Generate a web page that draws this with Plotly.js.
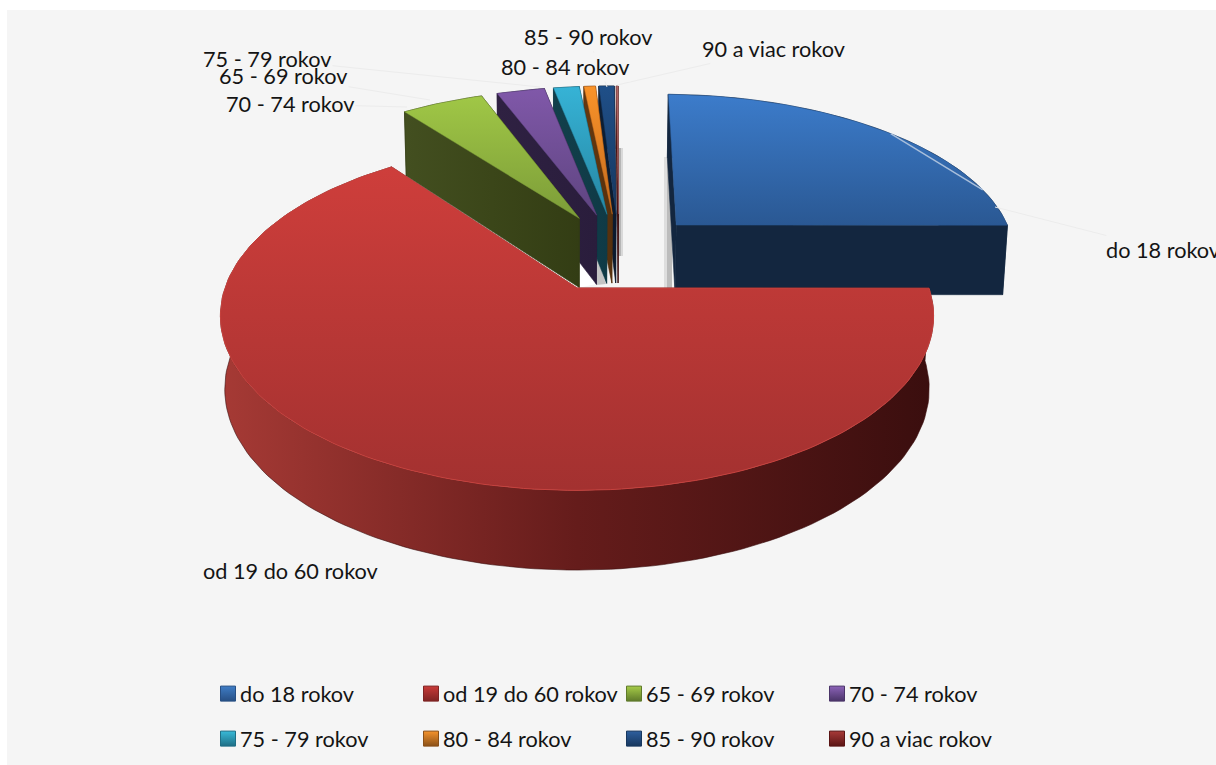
<!DOCTYPE html>
<html><head><meta charset="utf-8">
<script src="https://cdn.plot.ly/plotly-3.0.1.min.js"></script>
<style>html,body{margin:0;padding:0;background:#fff;overflow:hidden}</style>
</head><body><div id="chart" style="width:1216px;height:765px"></div>
<script>
// ---- data ----
const categories = ['do 18 rokov','od 19 do 60 rokov','65 - 69 rokov','70 - 74 rokov','75 - 79 rokov','80 - 84 rokov','85 - 90 rokov','90 a viac rokov'];
const values = [24.74,64.85,4.65,2.7,1.45,0.65,0.86,0.1];
// ---- styles ----
const topLight = ['#3C7CCB','#CE3E3B','#A0C746','#8058A9','#36B3D6','#F99329','#1F4F88','#B06A6A'];
const topDark  = ['#2A5893','#A33130','#7C9C38','#5E4480','#2686A2','#C46A1E','#17375E','#A05A5A'];
const wallLeft = ['#13263F','#A63A35','#434F20','#2F2142','#123F4B','#66380F','#0D1F35','#501515'];
const wallMid  = ['#13263F','#651C1B','#3B4619','#2C1F3F','#113D49','#5E340E','#0C1C31','#481212'];
const wallRight= ['#13263F','#3A0E0E','#333D14','#2A1D3C','#0F3A46','#55300E','#0B1A2E','#401010'];
const legendLight = ['#3F7DC6','#C93A38','#A6CC48','#8C63B8','#38BAD8','#F5932C','#2E5F9E','#A83A38'];
const legendDark  = ['#274F84','#7E2423','#5F7A2A','#4A3468','#1F6E85','#8A5018','#17375E','#5A1414'];
const labelPlaces = [ // label centre (ax,ay), leader end (x,y)
  [1163,250,995,207],[290,571,null,null],[283,76,430,100],[290,104,407,107],
  [267,59,540,87],[565,67,565,67],[588,37,607,87],[773,49,617,85]];
// ---- projection of the exploded tilted disc onto the page ----
const VIEW = {cx:577,cy:288,rx:352,a:170,p:0.16,depth:74,q:0.025,qx:0.012,pull:0.247,start:1.0,backU:0.012};
const total = values.reduce((s,v)=>s+v,0);
const rad = d=>d*Math.PI/180;
const spans=[]; let acc=VIEW.start;
values.forEach(v=>{const d=v/total*360; spans.push([acc,acc+d]); acc+=d;});
const redMid=(spans[1][0]+spans[1][1])/2;
const U0=-VIEW.pull*Math.sin(rad(redMid)), V0=-VIEW.pull*Math.cos(rad(redMid));
function apex(i){const m=(spans[i][0]+spans[i][1])/2;return [U0+VIEW.pull*Math.sin(rad(m))+(i===1?0:VIEW.backU),V0+VIEW.pull*Math.cos(rad(m))];}
function topP(U,V){const w=1+VIEW.p*V;return [VIEW.cx+VIEW.rx*U/w,VIEW.cy-VIEW.a*V/w];}
function botP(U,V){const w=1+VIEW.p*V;return [VIEW.cx+VIEW.rx*U/(w+VIEW.qx),VIEW.cy-(VIEW.a*V-VIEW.depth)/(w+VIEW.q)];}
function rimPt(i,ang){const c=apex(i);return [c[0]+Math.sin(rad(ang)),c[1]+Math.cos(rad(ang))];}
function poly(pts,scale,type,lineColor,lw){
  return {type:'scatter',mode:'lines',x:pts.map(p=>p[0]),y:pts.map(p=>p[1]),fill:'toself',
    line:{color:lineColor,width:lw===undefined?0.6:lw},hoverinfo:'skip',showlegend:false,
    fillgradient:{type:type,colorscale:scale}};
}
function arcAngles(a0,a1){const n=Math.max(2,Math.ceil((a1-a0)/1.5));const r=[];for(let k=0;k<=n;k++)r.push(a0+(a1-a0)*k/n);return r;}
const traces=[];
function drawSlice(i){
  const [a0,a1]=spans[i],c=apex(i),angs=arcAngles(a0,a1);
  const rim=angs.map(t=>rimPt(i,t));
  const wallScale=[[0,wallLeft[i]],[0.5,wallMid[i]],[1,wallRight[i]]];
  const rimPoly=rim.map(p=>topP(...p)).concat(rim.slice().reverse().map(p=>botP(...p)));
  rimPoly.push(rimPoly[0]);
  traces.push(poly(rimPoly,wallScale,'horizontal',wallRight[i]));
  const end=(pt)=>[topP(...c),topP(...pt),botP(...pt),botP(...c),topP(...c)];
  traces.push(poly(end(rim[rim.length-1]),wallScale,'horizontal',wallRight[i]));
  traces.push(poly(end(rim[0]),wallScale,'horizontal',wallRight[i]));
  const top=[topP(...c)].concat(rim.map(p=>topP(...p)));top.push(top[0]);
  traces.push(poly(top,[[0,topDark[i]],[1,topLight[i]]],'vertical',i===1?'#C7423E':topDark[i],i===1?1:0.5));
}
[7,6,5,4,3,2,0,1].forEach(drawSlice);
// highlight chord on the blue slice
{const A=topP(...rimPt(0,spans[0][0]+47)),B=topP(...rimPt(0,spans[0][0]+75));
 traces.push({type:'scatter',mode:'lines',x:[A[0],B[0]],y:[A[1],B[1]],line:{color:'#A9BFDB',width:1.4},hoverinfo:'skip',showlegend:false});}
// legend entries
categories.forEach((name,i)=>{
  traces.push({type:'scatter',mode:'markers',name:name,x:[null],y:[null],legend:i<4?'legend':'legend2',
    marker:{symbol:'square',size:15,color:legendLight[i],gradient:{type:'vertical',color:legendDark[i]},line:{color:legendDark[i],width:1}}});
});
const FONT='Lato, Carlito, sans-serif', SIZE=21.7;
const annotations=categories.map((name,i)=>{
  const [ax,ay,x,y]=labelPlaces[i];
  const base={text:name,font:{family:FONT,size:SIZE,color:'#141414'}};
  if(x===null||x===ax) return Object.assign(base,{x:ax,y:ay,xref:'x',yref:'y',showarrow:false,bgcolor:i===5?'#F5F5F5':'rgba(0,0,0,0)'});
  return Object.assign(base,{x:x,y:y,ax:ax,ay:ay,xref:'x',yref:'y',axref:'x',ayref:'y',showarrow:true,arrowhead:0,arrowwidth:1,arrowcolor:'#ECECEC'});
});
annotations.push(annotations.splice(5,1)[0]); // 80 - 84 painted last, above the 85 - 90 leader
const legendBase={orientation:'h',xref:'container',yref:'container',x:200/1216,xanchor:'left',yanchor:'middle',
  font:{family:FONT,size:SIZE,color:'#141414'},bgcolor:'rgba(0,0,0,0)',borderwidth:0,
  entrywidth:158,entrywidthmode:'pixels',itemclick:false,itemdoubleclick:false};
const soft=(x0,x1,y0,y1,a)=>({type:'rect',layer:'below',xref:'x',yref:'y',x0,x1,y0,y1,fillcolor:'rgba(120,120,120,'+a+')',line:{width:0}});
const shapes=[soft(618,621,148,256,0.5),soft(621,623,148,256,0.22),soft(667,672,157,290,0.45),soft(664,667,157,290,0.18)];
shapes.push({type:'path',layer:'below',xref:'x',yref:'y',path:'M578,258 L596,284 L578,288 Z',fillcolor:'#FFFFFF',line:{width:0}});
shapes.push({type:'path',layer:'below',xref:'x',yref:'y',path:'M596,255 L606,284 L596,285 Z',fillcolor:'#C4C4C4',line:{width:0}});
const layout={width:1216,height:765,paper_bgcolor:'#FFFFFF',plot_bgcolor:'#F5F5F5',
  margin:{l:7,r:0,t:10,b:0,pad:0,autoexpand:false},showlegend:true,
  xaxis:{range:[7,1216],visible:false,fixedrange:true},
  yaxis:{range:[765,10],visible:false,fixedrange:true},
  legend:Object.assign({},legendBase,{y:1-694/765}),
  legend2:Object.assign({},legendBase,{y:1-739/765}),
  annotations:annotations,shapes:shapes};
Plotly.newPlot('chart',traces,layout,{displayModeBar:false}).then(()=>{
  // reference legend keeps the swatch closer to its text than Plotly's default item width
  document.querySelectorAll('.legendsymbols').forEach(g=>g.setAttribute('transform','translate(8,0)'));
});
</script></body></html>
